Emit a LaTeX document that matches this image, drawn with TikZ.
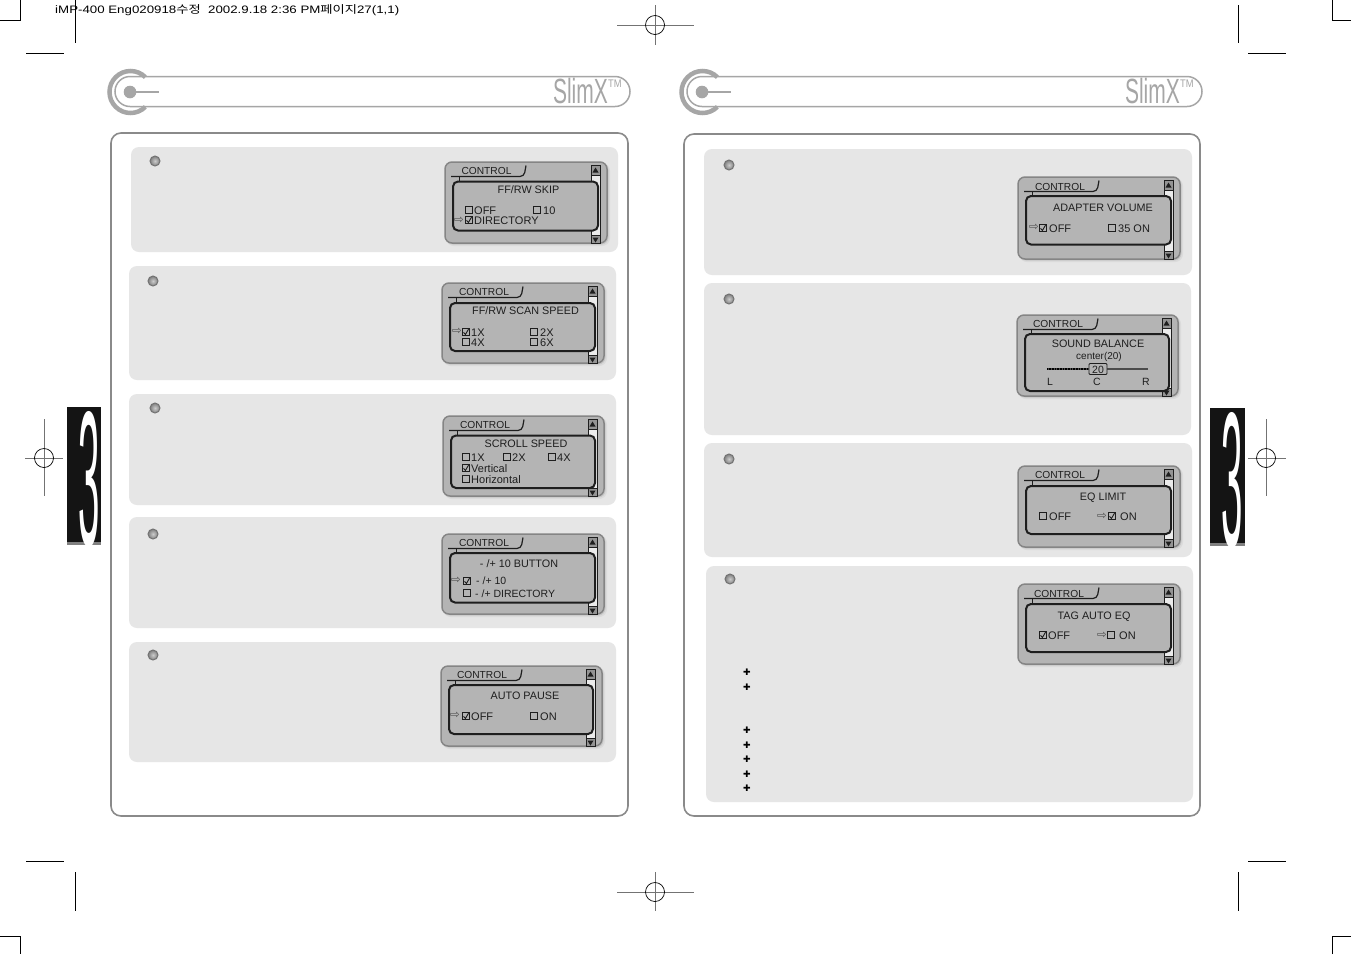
\documentclass[tikz,border=0pt]{standalone}
\usepackage{fontspec}
\setmainfont{Liberation Sans}
\newfontfamily\krfont{Noto Sans CJK KR}
\newfontfamily\symfont{DejaVu Sans}
\definecolor{cardgray}{HTML}{E6E6E6}
\definecolor{lcdgray}{HTML}{B4B4B4}
\definecolor{framegray}{HTML}{8A8A8A}
\definecolor{logogray}{HTML}{A6A6A6}
\definecolor{inkgray}{HTML}{1E1E1E}
\tikzset{
  x=1pt,y=-1pt,
  card/.style={fill=cardgray,draw=none,rounded corners=8pt},
  panelbox/.style={draw=framegray,line width=1.6pt,rounded corners=10pt,fill=white},
  bulletdot/.style={circle,draw=black!55,line width=1pt,inner color=black!20,outer color=black!50,minimum size=10pt,inner sep=0pt},
  lab/.style={inner sep=0pt,text height=8pt,text depth=0pt,anchor=west,text=inkgray,font=\fontsize{11}{11}\selectfont},
  title/.style={lab,anchor=center,font=\fontsize{10.8}{11}\selectfont},
  ctrl/.style={lab,anchor=center,font=\fontsize{10.2}{11}\selectfont},
  crop/.style={draw=black,line width=.8pt},
  reg/.style={draw=black!55,line width=.8pt},
  regc/.style={draw=black,line width=.7pt},
  plusmark/.style={inner sep=0pt,font=\symfont\bfseries\fontsize{9}{9}\selectfont,text=black}
}
% #1 x, #2 y, #3 w, #4 h, #5 screen top, #6 screen bottom (relative)
\newcommand{\lcdunit}[6]{%
  \begin{scope}[shift={(#1,#2)}]
    \fill[black!14,rounded corners=8pt] (1,1) rectangle (#3+3,#4+3);
    \fill[black!22,rounded corners=7pt] (1,1) rectangle (#3+1.5,#4+1.5);
    \fill[lcdgray,draw=black!48,line width=1.5pt,rounded corners=7pt] (0,0) rectangle (#3,#4);
    % scroll bar
    \fill[black!8,draw=inkgray,line width=.8pt] (#3-16,3) rectangle (#3-7,#4+.5);
    \fill[black!42,draw=inkgray,line width=.8pt] (#3-16,3) rectangle (#3-7,13);
    \fill[black!42,draw=inkgray,line width=.8pt] (#3-16,#4-7.5) rectangle (#3-7,#4+.5);
    \fill[inkgray] (#3-14.5,10.5) -- (#3-8.5,10.5) -- (#3-11.5,5.5) -- cycle;
    \fill[inkgray] (#3-14.5,#4-5.5) -- (#3-8.5,#4-5.5) -- (#3-11.5,#4-.5) -- cycle;
    % tab
    \draw[inkgray,line width=1.2pt,rounded corners=4pt] (6,14.5) -- (79,14.5) -- (81,3.5);
    \draw[inkgray,line width=1pt] (14,14.5) -- (14,19);
    % screen
    \fill[lcdgray,draw=inkgray,line width=2pt,rounded corners=5pt] (8,#5) rectangle (#3-9,#6);
  \end{scope}}
\newcommand{\cbox}[2]{\draw[inkgray,line width=.8pt] (#1-3.5,#2-3.5) rectangle (#1+3.5,#2+3.5);}
\newcommand{\cchk}[2]{\cbox{#1}{#2}\draw[inkgray,line width=.9pt] (#1-2.5,#2+.3) -- (#1-.6,#2+2.5) -- (#1+2.6,#2-3);}
\newcommand{\harrow}[3]{\node[inner sep=0pt,text=black!70,font=\symfont\fontsize{11.5}{11.5}\selectfont] (#3) at (#1,#2) {⇨};}
\newcommand{\headerbar}[2]{%
  \begin{scope}[xshift=#1]
    \draw[logogray,line width=1.5pt,rounded corners=15pt] (115,76.5) rectangle (630,106.5);
    \draw[logogray,line width=4.5pt] ({130.5+21*cos(45)},{92+21*sin(45)}) arc[start angle=45,end angle=315,radius=21];
    \fill[logogray] (130,92) circle (6.3);
    \draw[logogray,line width=1.5pt] (130,92) -- (159,92);
    \node[inner sep=0pt,anchor=east,text=logogray,font=\fontsize{35}{35}\selectfont,xscale=.6,text height=25pt,text depth=0pt] (logo#2) at (608,91) {SlimX};
    \node[inner sep=0pt,anchor=west,text=logogray,font=\fontsize{11}{11}\selectfont,xscale=.85] (tm#2) at (608,84) {TM};
  \end{scope}}
\newcommand{\regmark}[7]{% x y r x0 x1 y0 y1
  \draw[reg] (#4,#2) -- (#5,#2);\draw[reg] (#1,#6) -- (#1,#7);\draw[regc] (#1,#2) circle (#3);}
\newcommand{\tabthree}[5]{% x0 y0 x1 y1 name
  \fill[black!92] (#1,#2) rectangle (#3,#4);
  \fill[black!50] (#1,#4-3) rectangle (#3,#4);
  \begin{scope}
    \clip (#1,#2) rectangle (#3,#4-1);
    \node[inner sep=0pt,text=white,font=\fontsize{192}{192}\selectfont,xscale=.2,text height=138pt,text depth=0pt] (#5) at (#1+22,{(#2+#4)/2}) {3};
  \end{scope}}
\begin{document}
\begin{tikzpicture}
\useasboundingbox (0,0) rectangle (1351,954);
\fill[white] (0,0) rectangle (1351,954);
% crop marks
\draw[crop] (0,20) -- (20,20) -- (20,0);
\draw[crop] (75,0) -- (75,43);
\draw[crop] (26,53) -- (64,53);
\draw[crop] (1238,5) -- (1238,43);
\draw[crop] (1248,53) -- (1286,53);
\draw[crop] (1332,0) -- (1332,20) -- (1351,20);
\draw[crop] (26,861) -- (64,861);
\draw[crop] (75,872) -- (75,911);
\draw[crop] (1238,872) -- (1238,911);
\draw[crop] (1248,861) -- (1286,861);
\draw[crop] (0,936) -- (20,936) -- (20,954);
\draw[crop] (1332,954) -- (1332,936) -- (1351,936);
\regmark{655}{25}{9.5}{617}{694}{5}{45}
\regmark{655}{892}{9.5}{617}{694}{872}{911}
\regmark{44}{458}{9.5}{25}{63}{419}{496}
\regmark{1266}{458}{9.5}{1248}{1286}{419}{496}
% print line
\node[inner sep=0pt,anchor=west,text=black,font=\fontsize{10.8}{11}\selectfont,xscale=1.23] (slug) at (55,10) {iMP-400 Eng020918{\krfont 수정}\ \ 2002.9.18 2:36 PM{\krfont 페이지}27(1,1)};
% tabs
\tabthree{67}{407}{101}{545}{tabL}
\tabthree{1210}{408}{1245}{546}{tabR}
% headers
\headerbar{0pt}{L}
\headerbar{572pt}{R}
% panels
\draw[panelbox] (111,133) rectangle (628,816);
\draw[panelbox] (684,134) rectangle (1200,816);
% cards
\fill[card] (131,147) rectangle (618,252);
\fill[card] (129,266) rectangle (616,380);
\fill[card] (129,394) rectangle (616,505);
\fill[card] (129,517) rectangle (616,628);
\fill[card] (129,642) rectangle (616,762);
\fill[card] (704,149) rectangle (1192,275);
\fill[card] (704,283) rectangle (1191,435);
\fill[card] (704,443) rectangle (1192,557);
\fill[card] (706,566) rectangle (1193,802);
% bullets
\node[bulletdot] (b1) at (155,161) {};
\node[bulletdot] (b2) at (153,281) {};
\node[bulletdot] (b3) at (155,408) {};
\node[bulletdot] (b4) at (153,534) {};
\node[bulletdot] (b5) at (153,655) {};
\node[bulletdot] (b6) at (729,165) {};
\node[bulletdot] (b7) at (729,299) {};
\node[bulletdot] (b8) at (729,459) {};
\node[bulletdot] (b9) at (730,579) {};
% plus marks
\foreach \yy [count=\i] in {672,687,730,745,759,774,788}
  \node[plusmark] (p\i) at (747,\yy) {✚};
% LCD frames
\lcdunit{445}{162}{162}{81}{19.5}{68.5}
\lcdunit{442}{283}{162}{80}{20}{68}
\lcdunit{443}{416}{161}{80}{19.5}{72}
\lcdunit{442}{534}{162}{80}{19}{68.5}
\lcdunit{441}{666}{161}{80}{19}{68}
\lcdunit{1018}{177}{162}{82}{19}{67.5}
\lcdunit{1017}{315}{161}{81}{19}{76}
\lcdunit{1018}{466}{162}{81}{20}{68}
\lcdunit{1018}{584}{162}{80}{20}{68}
% unit 1
\node[ctrl] (c1) at (486.5,170) {CONTROL};
\node[title] (t1) at (528.5,189) {FF/RW SKIP};
\cbox{469}{210}\node[lab] (a1) at (474,210) {OFF};
\cbox{537}{210}\node[lab] (a2) at (543,210) {10};
\harrow{459}{220}{ar1}\cchk{469}{220}\node[lab] (a3) at (474,220) {DIRECTORY};
% unit 2
\node[ctrl] (c2) at (484,291) {CONTROL};
\node[title] (t2) at (525.5,310) {FF/RW SCAN SPEED};
\harrow{457}{331}{ar2}\cchk{466}{332}\node[lab] (a4) at (471,332) {1X};
\cbox{534}{332}\node[lab] (a5) at (540,332) {2X};
\cbox{466}{342}\node[lab] (a6) at (471,342) {4X};
\cbox{534}{342}\node[lab] (a7) at (540,342) {6X};
% unit 3
\node[ctrl] (c3) at (485,424) {CONTROL};
\node[title] (t3) at (526,443) {SCROLL SPEED};
\cbox{466}{457}\node[lab] (a8) at (471,457) {1X};
\cbox{507}{457}\node[lab] (a9) at (512,457) {2X};
\cbox{552}{457}\node[lab] (a10) at (557,457) {4X};
\cchk{466}{468}\node[lab] (a11) at (471,468) {Vertical};
\cbox{466}{479}\node[lab] (a12) at (471,479) {Horizontal};
% unit 4
\node[ctrl] (c4) at (484,542) {CONTROL};
\node[title] (t4) at (519,563) {- /+ 10 BUTTON};
\harrow{456}{580}{ar4}\cchk{467}{581}\node[lab,font=\fontsize{10.5}{10.5}\selectfont] (a13) at (476,580) {- /+ 10};
\cbox{467}{593}\node[lab,font=\fontsize{10.5}{10.5}\selectfont] (a14) at (475,593) {- /+ DIRECTORY};
% unit 5
\node[ctrl] (c5) at (482,674) {CONTROL};
\node[title] (t5) at (525,695) {AUTO PAUSE};
\harrow{455}{715}{ar5}\cchk{466}{716}\node[lab] (a15) at (471,716) {OFF};
\cbox{534}{716}\node[lab] (a16) at (540,716) {ON};
% unit 6
\node[ctrl] (c6) at (1060,186) {CONTROL};
\node[title] (t6) at (1103,207) {ADAPTER VOLUME};
\harrow{1034}{227}{ar6}\cchk{1043}{228}\node[lab] (a17) at (1049,228) {OFF};
\cbox{1112}{228}\node[lab] (a18) at (1118,228) {35 ON};
% unit 7
\node[ctrl] (c7) at (1058,323) {CONTROL};
\node[title] (t7) at (1098,343) {SOUND BALANCE};
\node[title,font=\fontsize{10}{10}\selectfont] (t7b) at (1099,355) {center(20)};
\draw[black!70,line width=1.2pt] (1047,369) -- (1148,369);
\draw[black,line width=1.8pt,dash pattern=on 1pt off .6pt] (1047,369) -- (1090,369);
\draw[inkgray,line width=.9pt,fill=lcdgray,rounded corners=1pt] (1089,363.5) rectangle (1107,374.5);
\node[title,font=\fontsize{10.5}{10.5}\selectfont] (v7) at (1098,369) {20};
\node[title,font=\fontsize{10.5}{10.5}\selectfont] (l7) at (1050,381) {L};
\node[title,font=\fontsize{10.5}{10.5}\selectfont] (m7) at (1097,381) {C};
\node[title,font=\fontsize{10.5}{10.5}\selectfont] (r7) at (1146,381) {R};
% unit 8
\node[ctrl] (c8) at (1060,474) {CONTROL};
\node[title] (t8) at (1103,496) {EQ LIMIT};
\cbox{1043}{516}\node[lab] (a19) at (1049,516) {OFF};
\harrow{1102}{516}{ar8}\cchk{1112}{516}\node[lab] (a20) at (1120,516) {ON};
% unit 9
\node[ctrl] (c9) at (1059,593) {CONTROL};
\node[title] (t9) at (1094,615) {TAG AUTO EQ};
\cchk{1043}{635}\node[lab] (a21) at (1048,635) {OFF};
\harrow{1102}{635}{ar9}\cbox{1111}{635}\node[lab] (a22) at (1119,635) {ON};
\end{tikzpicture}
\end{document}
